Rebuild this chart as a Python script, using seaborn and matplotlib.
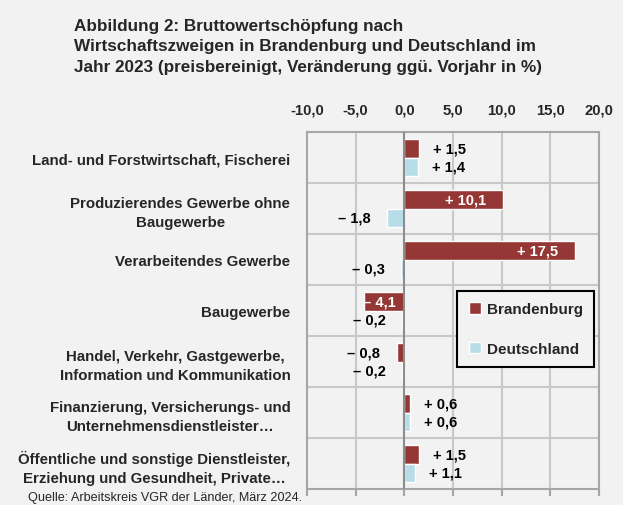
import pandas as pd
import matplotlib
import seaborn as sns
from matplotlib import pyplot as plt
import warnings
warnings.filterwarnings("ignore")
matplotlib.use('Agg')

# data
categories = [
    'Land- und Forstwirtschaft, Fischerei',
    'Produzierendes Gewerbe ohne\nBaugewerbe',
    'Verarbeitendes Gewerbe',
    'Baugewerbe',
    'Handel, Verkehr, Gastgewerbe,\nInformation und Kommunikation',
    'Finanzierung, Versicherungs- und\nUnternehmensdienstleister…',
    'Öffentliche und sonstige Dienstleister,\nErziehung und Gesundheit, Private…',
]
brandenburg = [1.5, 10.1, 17.5, -4.1, -0.8, 0.6, 1.5]
deutschland = [1.4, -1.8, -0.3, -0.2, -0.2, 0.6, 1.1]
regions = ['Brandenburg', 'Deutschland']
colors = ['#953735', '#b7dee8']
x_ticks = [-10, -5, 0, 5, 10, 15, 20]

df = pd.DataFrame({
    'Kategorie': categories * 2,
    'Wert': brandenburg + deutschland,
    'Region': [regions[0]] * len(categories) + [regions[1]] * len(categories),
})

bg = '#f2f2f2'
sns.set_style('white')
plt.rcParams['font.family'] = ['Liberation Sans', 'DejaVu Sans']
plt.rcParams['font.weight'] = 'bold'

fig = plt.figure(figsize=(6.23, 5.06), dpi=100, facecolor=bg)
ax = fig.add_axes([0.4928, 0.0316, 0.4687, 0.7055])
ax.set_facecolor(bg)

sns.barplot(data=df, x='Wert', y='Kategorie', hue='Region', orient='h',
            palette=colors, width=0.72, ax=ax, legend=True, saturation=1)

ax.set_xlim(-10, 20)
ax.set_ylim(len(categories) - 0.5, -0.5)
ax.set_xticks(x_ticks)
ax.set_xticklabels([f'{v:.1f}'.replace('.', ',') for v in x_ticks],
                   fontsize=10.7, fontweight='bold')
ax.tick_params(axis='x', top=False, labeltop=True, bottom=True,
               labelbottom=False, direction='out', length=5, width=1.5,
               color='#a6a6a6', pad=6)
ax.set_yticks(range(len(categories)))
ax.set_yticklabels(categories, fontsize=10.8, fontweight='bold')
for lbl in ax.get_yticklabels():
    lbl.set_multialignment('center')
    lbl.set_linespacing(1.45)
ax.tick_params(axis='y', left=False, length=0, pad=12)
ax.set_xlabel('')
ax.set_ylabel('')

# grid
for v in [-5, 5, 10, 15]:
    ax.axvline(v, color='#c8c8c8', lw=1.5, zorder=0)
for k in range(1, len(categories)):
    ax.axhline(k - 0.5, color='#c8c8c8', lw=1.5, zorder=0)
ax.axvline(0, color='#8c8c8c', lw=1.5, zorder=3)
for s in ax.spines.values():
    s.set_color('#a6a6a6')
    s.set_linewidth(1.5)

# value labels
for container in ax.containers:
    for bar in container:
        w = bar.get_width()
        yc = bar.get_y() + bar.get_height() / 2
        txt = ('+ ' if w >= 0 else '– ') + f'{abs(w):.1f}'.replace('.', ',')
        if w > 5:
            ax.annotate(txt, (w, yc), xytext=(-12, 0), textcoords='offset points',
                        ha='right', va='center', color='white', fontsize=10.5, fontweight='bold')
        elif w < -3:
            ax.annotate(txt, (w, yc), xytext=(-1, 0), textcoords='offset points',
                        ha='left', va='center', color='white', fontsize=10.5, fontweight='bold')
        elif w >= 0:
            ax.annotate(txt, (w, yc), xytext=(10, 0), textcoords='offset points',
                        ha='left', va='center', color='black', fontsize=10.5, fontweight='bold')
        else:
            ax.annotate(txt, (w, yc), xytext=(-12, 0), textcoords='offset points',
                        ha='right', va='center', color='black', fontsize=10.5, fontweight='bold')

leg = ax.legend(loc='upper left', bbox_to_anchor=(0.514, 0.555), frameon=True,
                fancybox=False, edgecolor='black', facecolor=bg, framealpha=1,
                handlelength=0.8, handleheight=0.8, labelspacing=1.65,
                borderpad=0.75, handletextpad=0.4, borderaxespad=0,
                prop={'size': 11, 'weight': 'bold'})
leg.get_frame().set_linewidth(1.5)

fig.text(0.119, 0.963, 'Abbildung 2: Bruttowertschöpfung nach\n'
         'Wirtschaftszweigen in Brandenburg und Deutschland im\n'
         'Jahr 2023 (preisbereinigt, Veränderung ggü. Vorjahr in %)',
         ha='left', va='top', fontsize=12.3, fontweight='bold', linespacing=1.45)
fig.text(0.045, 0.004, 'Quelle: Arbeitskreis VGR der Länder, März 2024.',
         ha='left', va='bottom', fontsize=9.1, fontweight='normal')

plt.savefig('out.png', dpi=100, facecolor=bg)
